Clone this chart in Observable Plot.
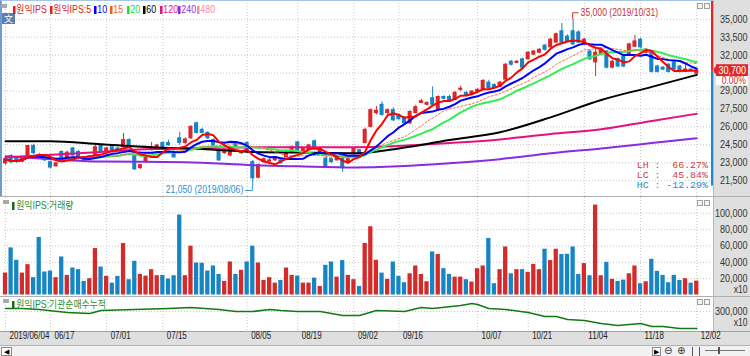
<!DOCTYPE html>
<html><head><meta charset="utf-8">
<script src="https://cdn.jsdelivr.net/npm/d3@7"></script>
<script src="https://cdn.jsdelivr.net/npm/@observablehq/plot@0.6"></script>
<style>
html,body{margin:0;padding:0;background:#fff;}
#wrap{position:relative;width:750px;height:356px;overflow:hidden;background:#fff;}
#wrap div.a{position:absolute;box-sizing:border-box;}
#wrap svg.p{position:absolute;left:0;}
#wrap svg text{font-family:"Liberation Sans",Arial,"Noto Sans CJK KR",sans-serif;}
.lg{position:absolute;top:3px;height:13px;font:10.5px/13px "Liberation Sans","Noto Sans CJK KR",sans-serif;white-space:nowrap;transform:scaleX(0.84);transform-origin:0 50%;}
.lg i{display:inline-block;width:3px;height:8px;margin-right:1px;vertical-align:-1px;}
.hd{position:absolute;font:10.5px/12px "Liberation Sans","Noto Sans CJK KR",sans-serif;color:#2c8a2c;white-space:nowrap;transform:scaleX(0.84);transform-origin:0 50%;}
.hd i{display:inline-block;width:3px;height:8px;margin-right:2px;background:#1a6a1a;vertical-align:-1px;}
</style></head><body><div id="wrap"></div><script>
// ---------- data ----------
const dateIdx = [0,8,18,28,43,52,62,70,84,93,103,113,123];
const dateLabels = ["2019/06/04","06/17","07/01","07/15","08/05","08/19","09/02","09/16","10/07","10/21","11/04","11/18","12/02"];
const opens = [22950,23550,23350,23100,23550,24400,23650,23450,23050,22700, 23900,23450,24200,23900,23450,23300,23550,24400,23900,24300, 24200,24300,24900,23600,22550,23050,24050,24200,24650,24650, 23900,25050,24650,25050,26300,25750,25500,24900,24050,23800, 23600,24700,23800,24650,23050,21750,23050,23100,23200,23200, 23450,23900,24700,23900,24050,24800,23900,23350,23300,23200, 23350,23050,23800,24050,24650,26000,27150,27850,27150,27400, 27000,26750,26300,27150,28000,27850,28400,27500,28500,28500, 28250,29100,28850,28700,28950,29100,29700,29500,29350,29950, 31450,31350,31650,31650,32050,32200,32800,32650,33050,34000, 33550,34000,33900,33050,32300,31400,32050,32300,30950,31650, 31900,32050,32700,33300,32200,32200,31050,30950,31200,31400, 31050,30600,30800,30450];
const highs = [23450,23700,23450,23550,24450,24550,23800,23500,23100,23000, 24000,23950,24300,24050,23500,23600,24450,24500,24300,24350, 24300,25450,25000,23700,22850,23550,24700,24550,24750,24900, 24000,25550,25100,26100,26400,25900,25600,25000,24100,24150, 24400,24800,24000,24750,23200,22900,23400,23350,23450,23300, 23900,24400,24800,24250,24550,24900,24300,23450,23400,23550, 23450,23450,24300,24100,25900,27500,27700,28100,27500,27600, 27100,26850,27350,27800,28300,28100,29350,28600,28600,28650, 28950,29400,28950,29050,29200,29950,29900,29600,29800,31300, 31550,31550,31750,32300,32400,32550,32900,33400,33850,34650, 33700,35000,34050,33400,32400,32500,32550,32400,31550,31750, 32000,33000,33650,33400,32550,32300,31150,31050,31300,31500, 31150,31200,30850,30800];
const lows = [22800,22900,22950,23000,23450,23700,23350,23100,22500,22650, 23300,23400,23550,23400,23150,23250,23500,23850,23850,24000, 23900,24200,24300,22350,22450,23000,24000,24150,24250,24400, 23400,24450,24550,24950,25400,25400,24950,24350,23100,23700, 23500,24200,23700,23800,21050,21650,22950,23000,23100,22900, 23400,23850,23800,23800,24000,24100,23800,22500,22950,23150, 22200,22950,23750,23700,24600,25900,27000,26900,27050,26450, 26550,26200,26200,27100,27950,27750,27750,27400,28250,28100, 28200,28950,28500,28600,28850,29050,29150,29200,29300,29900, 31100,31300,30850,31600,31950,32150,32350,32600,33000,32950, 33050,32800,32950,32950,31550,30200,31950,30850,30850,30950, 30950,31950,32650,32550,32100,30500,30500,30700,30500,30700, 30500,30550,30650,30400];
const closes = [23300,23050,23100,23450,24400,23800,23450,23200,22600,22950, 23350,23850,23600,23450,23200,23550,24300,23900,24200,24050, 23950,24900,24400,22450,22800,23450,24300,24450,24300,24450, 23450,24650,24950,26000,25500,25500,25050,24450,23200,24050, 24300,24300,23950,23900,21700,22800,23300,23200,23350,22950, 23800,24300,23900,24150,24450,24150,24200,22600,23050,23450, 22550,23350,24200,23800,25750,27400,27350,27000,27400,26550, 26650,26300,27250,27650,28150,28000,27850,28500,28350,28150, 28850,29200,28600,28950,29100,29850,29250,29250,29700,31200, 31200,31450,30950,32200,32300,32450,32450,33300,33750,33050, 33150,32900,33050,33300,31650,32200,32450,30950,31450,31050, 31050,32900,33150,32650,32450,30600,30600,30800,30600,30800, 30600,30800,30700,30700];
const volumes = [26800,57600,42500,26800,37100,21200,70400,28100,29300,21200, 46500,24000,33000,31000,16600,19900,56800,34200,22800,14500, 22800,63000,18700,41200,25200,23100,31000,23600,24000,19500, 23600,97800,23600,59700,39100,38800,29300,35500,25200,16600, 40400,25200,30200,40400,59700,39100,17800,21200,14500,17800, 33000,24000,23100,14500,14500,20700,10500,36300,40400,21900, 42100,24000,18700,10500,63000,83500,42500,26800,19100,40400, 22800,15000,26000,35500,25200,16200,52700,49500,32200,25200, 21900,21900,18700,15800,32200,35500,69200,13800,31000,58800, 26000,31000,31000,27700,37500,31000,56000,42100,56000,49500, 49800,58800,25200,38400,23600,110000,23600,40000,19100,16600, 18200,26000,35500,13800,16200,43700,28900,24000,15000,24000, 17800,19900,14500,17000];
const ma60Idx = [0,8,17,26,35,44,52,63,70,79,88,97,106,115,123];
const ma60Val = [24800,24800,24550,24300,24150,23900,23850,23800,24200,24900,25550,26800,28250,29350,30350];
const ma120Idx = [0,17,26,35,44,62,70,79,88,97,106,115,123];
const ma120Val = [23450,23900,24150,24200,24300,24300,24400,24650,24950,25400,25800,26500,27100];
const ma240Idx = [0,8,17,32,44,52,62,70,79,88,97,106,115,123];
const ma240Val = [23550,23300,23100,23050,22800,22700,22600,22700,22950,23300,23800,24200,24650,25050];
const cumIdx = [0,3,6,11,15,17,23,29,33,38,41,44,47,49,52,56,58,60,63,66,71,74,76,81,83,84,86,89,93,96,98,100,103,106,109,111,113,115,117,120,123];
const cumVal = [318000,318000,312000,294000,288000,306000,312000,318000,324000,312000,300000,300000,312000,306000,300000,300000,288000,276000,276000,306000,300000,324000,318000,336000,348000,342000,318000,312000,294000,270000,270000,252000,246000,228000,216000,222000,228000,210000,210000,198000,198000];
const priceTicks = [21500,23000,24500,26000,27500,29000,30500,32000,33500,35000];
const volTicks = [20000,40000,60000,80000,100000];
const cumTicks = [300000];
const legendLabels = ["원익IPS","원익IPS:5","10","15","20","60","120","240","480"];
const legendColors = ["#e0201e","#e0201e","#0000ff","#ff5a1e","#22dd33","#000000","#e6117f","#8a2be2","#f58aa5"];
const hiDate = "2019/10/31", loDate = "2019/08/06";
const volTitle = "원익IPS:거래량", cumTitle = "원익IPS:기관순매수누적";

// ---------- setup ----------
const RED = "#d8282c", BLUE = "#1684c6";
const fmt = d3.format(",");
const N = closes.length;
const candles = d3.range(N).map(i => ({i, o: opens[i], h: highs[i], l: lows[i], c: closes[i], v: volumes[i], up: closes[i] >= opens[i]}));
function sma(n){ return closes.map((c,i)=>({i, v: d3.mean(closes.slice(Math.max(0,i-n+1), i+1))})); }
const ma5 = sma(5), ma10 = sma(10), ma15 = sma(15), ma20 = sma(20);
const zip = (a,b) => a.map((i,k)=>({i, v: b[k]}));
const ma60 = zip(ma60Idx, ma60Val), ma120 = zip(ma120Idx, ma120Val), ma240 = zip(ma240Idx, ma240Val);
const cum = zip(cumIdx, cumVal);

const wrap = document.getElementById("wrap");
function box(l,t,w,h,css,html){ const d=document.createElement("div"); d.className="a"; d.style.cssText=`left:${l}px;top:${t}px;width:${w}px;height:${h}px;${css||""}`; if(html) d.innerHTML=html; wrap.appendChild(d); return d; }
// horizontally scale the latin text around its anchor, like the reference's narrow bitmap font
function condense(svg){
  svg.querySelectorAll("text").forEach(t => {
    const s = t.textContent;
    const f = t.classList.contains("mono") ? 1.1 : s.includes("(") ? 0.82 : /^\d\d\/\d\d$|^\d{4}\//.test(s) ? 0.76 : 0.86;
    const b = t.getBBox();
    if (!b.width) return;
    const anchor = getComputedStyle(t).textAnchor;
    const ax = anchor === "end" ? b.x + b.width : anchor === "middle" ? b.x + b.width / 2 : b.x;
    const prevT = t.getAttribute("transform") || "";
    t.setAttribute("transform", `${prevT} translate(${ax},0) scale(${f},1) translate(${-ax},0)`.trim());
  });
}

// chrome backgrounds
box(713,0,37,331,"background:#dfdfdf;");
box(0,331,750,14,"background:#dfdfdf;border-top:1px solid #a0a0a0;");
box(0,345,750,11,"background:#f2f2f2;border-top:1px solid #b4b4b4;");

const xDomain = [-0.178, 125.8];
const grid = {stroke: "#c6c6c6", strokeDasharray: "1,2", strokeWidth: 1};
const common = {width: 750, marginLeft: 4, marginRight: 38, marginTop: 0,
  x: {domain: xDomain, axis: null}, color: {type: "identity"},
  style: {background: "none", fontFamily: "Liberation Sans, Arial, sans-serif", fontSize: "10.5px", overflow: "visible"}};
const axisText = (ticks) => Plot.text(ticks, {y: d => d, text: d => fmt(d), frameAnchor: "right", textAnchor: "end", dx: 35, fill: "#333", fontSize: 10.5});

// ---------- price panel ----------
const lastClose = closes[N-1];
const price = Plot.plot({...common, height: 196, marginBottom: 0,
  y: {domain: [20179, 36572], axis: null},
  marks: [
    Plot.ruleY(priceTicks, {y: d => d, ...grid}),
    Plot.ruleX(dateIdx, {x: d => d, ...grid}),
    Plot.ruleX(candles, {x: "i", y1: "l", y2: "h", stroke: d => d.up ? RED : BLUE, strokeWidth: 1}),
    Plot.rect(candles, {x1: d => d.i - 0.36, x2: d => d.i + 0.36, y1: d => Math.min(d.o, d.c), y2: d => Math.max(d.o, d.c), fill: d => d.up ? RED : BLUE, insetTop: -0.5, insetBottom: -0.5}),
    Plot.line(ma240, {x: "i", y: "v", stroke: "#8a2be2", strokeWidth: 2, curve: "monotone-x"}),
    Plot.line(ma120, {x: "i", y: "v", stroke: "#e6117f", strokeWidth: 2, curve: "monotone-x"}),
    Plot.line(ma60, {x: "i", y: "v", stroke: "#000000", strokeWidth: 2, curve: "monotone-x"}),
    Plot.line(ma20, {x: "i", y: "v", stroke: "#33ee55", strokeWidth: 2}),
    Plot.line(ma15, {x: "i", y: "v", stroke: "#ff6a3d", strokeWidth: 1, strokeDasharray: "2,2"}),
    Plot.line(ma10, {x: "i", y: "v", stroke: "#0000ff", strokeWidth: 2}),
    Plot.line(ma5, {x: "i", y: "v", stroke: "#ff0000", strokeWidth: 2}),
    // tick labels hidden behind the current-price tag are not shown (as in the reference)
    axisText(priceTicks.filter(t => Math.abs(t - lastClose) > 700))
  ]});
price.classList.add("p"); price.style.top = "0px";
wrap.appendChild(price);
{
  const sx = price.scale("x"), sy = price.scale("y");
  const X = v => sx.apply(v), Y = v => sy.apply(v);
  const g = d3.select(price).append("g");
  const hiI = d3.maxIndex(highs), loI = d3.minIndex(lows);
  const hi = highs[hiI], lo = lows[loI], last = lastClose, prev = closes[N-2];
  const hx = X(hiI), hy = Y(hi);
  g.append("path").attr("d", `M${hx},${hy}V${hy-6}H${hx+6}`).attr("stroke", "#c83232").attr("fill", "none");
  g.append("text").attr("x", hx+8).attr("y", hy-6).attr("dy", "0.35em").attr("text-anchor", "start").attr("fill", "#c83232").attr("font-size", 10.5).text(`${fmt(hi)} (${hiDate})`);
  const lx = X(loI), ly = Y(lo);
  g.append("path").attr("d", `M${lx},${ly}V${ly+5}H${lx-7}`).attr("stroke", "#2f8fd0").attr("fill", "none");
  g.append("text").attr("x", lx-9).attr("y", ly+4).attr("dy", "0.35em").attr("text-anchor", "end").attr("fill", "#2f8fd0").attr("font-size", 10.5).text(`${fmt(lo)} (${loDate})`);
  // range bar
  const cy = Y(last);
  g.append("rect").attr("x", 711).attr("y", 0).attr("width", 2).attr("height", cy).attr("fill", "#e02a2a");
  g.append("rect").attr("x", 711).attr("y", cy).attr("width", 2).attr("height", Y(lo)-cy).attr("fill", "#1c8ad0");
  // current price tag
  g.append("rect").attr("x", 716).attr("y", cy-6).attr("width", 32).attr("height", 12).attr("fill", "#e02a2a");
  g.append("path").attr("d", `M712,${cy}L716.5,${cy-4.5}L716.5,${cy+4.5}Z`).attr("fill", "#e02a2a");
  g.append("text").attr("x", 746).attr("y", cy).attr("dy", "0.35em").attr("text-anchor", "end").attr("fill", "#fff").attr("font-size", 10.5).text(fmt(last));
  g.append("rect").attr("x", 716).attr("y", cy+6).attr("width", 32).attr("height", 9).attr("fill", "#fff");
  const chg = ((last - prev) / prev * 100).toFixed(2) + "%";
  g.append("text").attr("x", 746).attr("y", cy+10).attr("dy", "0.35em").attr("text-anchor", "end").attr("fill", "#e02a2a").attr("font-size", 10).text(chg);
  // LH / LC / HC
  const stats = [["LH", (hi-lo)/lo*100, "#d23c3c"], ["LC", (last-lo)/lo*100, "#d23c3c"], ["HC", (last-hi)/hi*100, "#2a8ac8"]];
  stats.forEach((s,k) => {
    g.append("text").attr("class", "mono").attr("x", 708).attr("y", 165 + k*9.8).attr("dy", "0.35em").attr("text-anchor", "end")
     .attr("fill", s[2]).attr("font-size", 9).style("font-family", "Liberation Mono, DejaVu Sans Mono, monospace").style("white-space", "pre")
     .text(`${s[0]} : ${s[1].toFixed(2).padStart(6)}%`);
  });
}
condense(price);

// ---------- volume panel ----------
const vol = Plot.plot({...common, height: 99, marginBottom: 1.5,
  y: {domain: [0, 119266], axis: null},
  marks: [
    Plot.ruleY(volTicks, {y: d => d, ...grid}),
    Plot.ruleX(dateIdx, {x: d => d, ...grid}),
    Plot.rectY(candles, {x1: d => d.i - 0.38, x2: d => d.i + 0.38, y: "v", fill: d => d.up ? "#d42a2a" : "#1685c4"}),
    axisText(volTicks),
    Plot.text(["x10"], {text: d => d, frameAnchor: "bottom-right", textAnchor: "end", dx: 35, dy: -2.5, fill: "#333", fontSize: 10})
  ]});
vol.classList.add("p"); vol.style.top = "197px";
wrap.appendChild(vol);
condense(vol);

// ---------- cumulative panel + date axis ----------
const cp = Plot.plot({...common, height: 49, marginBottom: 14,
  y: {domain: [180000, 390000], axis: null},
  marks: [
    Plot.ruleY(cumTicks, {y: d => d, ...grid}),
    Plot.ruleX(dateIdx, {x: d => d, ...grid}),
    Plot.line(cum, {x: "i", y: "v", stroke: "#137a13", strokeWidth: 1.6}),
    axisText(cumTicks),
    Plot.text(["x10"], {text: d => d, frameAnchor: "bottom-right", textAnchor: "end", dx: 35, dy: -6, fill: "#333", fontSize: 10}),
    Plot.text(dateIdx, {x: d => d, text: (d, k) => dateLabels[k], frameAnchor: "bottom", textAnchor: "start", dx: 4, dy: 7, fill: "#222", fontSize: 10.5})
  ]});
cp.classList.add("p"); cp.style.top = "296px";
wrap.appendChild(cp);
condense(cp);

// ---------- overlays ----------
box(0,0,713,196,"border-left:2px solid #6f9bd1;border-top:1px solid #a9c6e8;");
box(0,196,750,1,"background:#b0b0b0;");
box(0,296,750,1,"background:#b0b0b0;");
box(713,0,1,331,"background:#b8b8b8;");
// legend
box(1,4,6,4,"background:#a8a8a8;");
box(2,13,13,11,"background:#5b7fae;color:#fff;font:9px/11px 'Noto Sans CJK SC',sans-serif;text-align:center;","文");
{
  const legendLeft = [13,50,94,110,127,143,160,178,197];
  legendLabels.forEach((t,k) => {
    const d = document.createElement("div"); d.className = "lg"; d.style.left = legendLeft[k] + "px"; d.style.color = legendColors[k];
    d.innerHTML = `<i style="background:${legendColors[k]}"></i>${t}`;
    wrap.appendChild(d);
  });
}
// panel icons
[[3,200],[3,299]].forEach(p => box(p[0],p[1],6,4,"background:#a8a8a8;"));
[[697,3],[704,3],[697,200],[704,200],[697,299],[704,299]].forEach(p => box(p[0],p[1],6,6,"border:1px solid #a0a0a0;background:#f4f4f4;"));
const h1 = document.createElement("div"); h1.className = "hd"; h1.style.cssText = "left:12px;top:199px;"; h1.innerHTML = `<i></i>${volTitle}`; wrap.appendChild(h1);
const h2 = document.createElement("div"); h2.className = "hd"; h2.style.cssText = "left:12px;top:298px;"; h2.innerHTML = `<i></i>${cumTitle}`; wrap.appendChild(h2);
// scrollbar chrome
box(1,347,11,9,"border:1px solid #8c8c8c;background:#fff;font:7px/8px sans-serif;text-align:center;color:#000;","◀");
box(652,347,9,9,"border:1px solid #8c8c8c;background:#fff;font:7px/8px sans-serif;text-align:center;color:#000;","▶");
box(664,346,12,10,"font:10px/10px 'DejaVu Sans',sans-serif;color:#333;","⊖");
box(677,346,12,10,"font:10px/10px 'DejaVu Sans',sans-serif;color:#333;","⊕");
box(692,347,8,9,"border-left:1px solid #555;border-right:1px solid #555;");
box(705,350,40,1,"background:#777;");
box(718,347,2,7,"background:#555;");
</script></body></html>
